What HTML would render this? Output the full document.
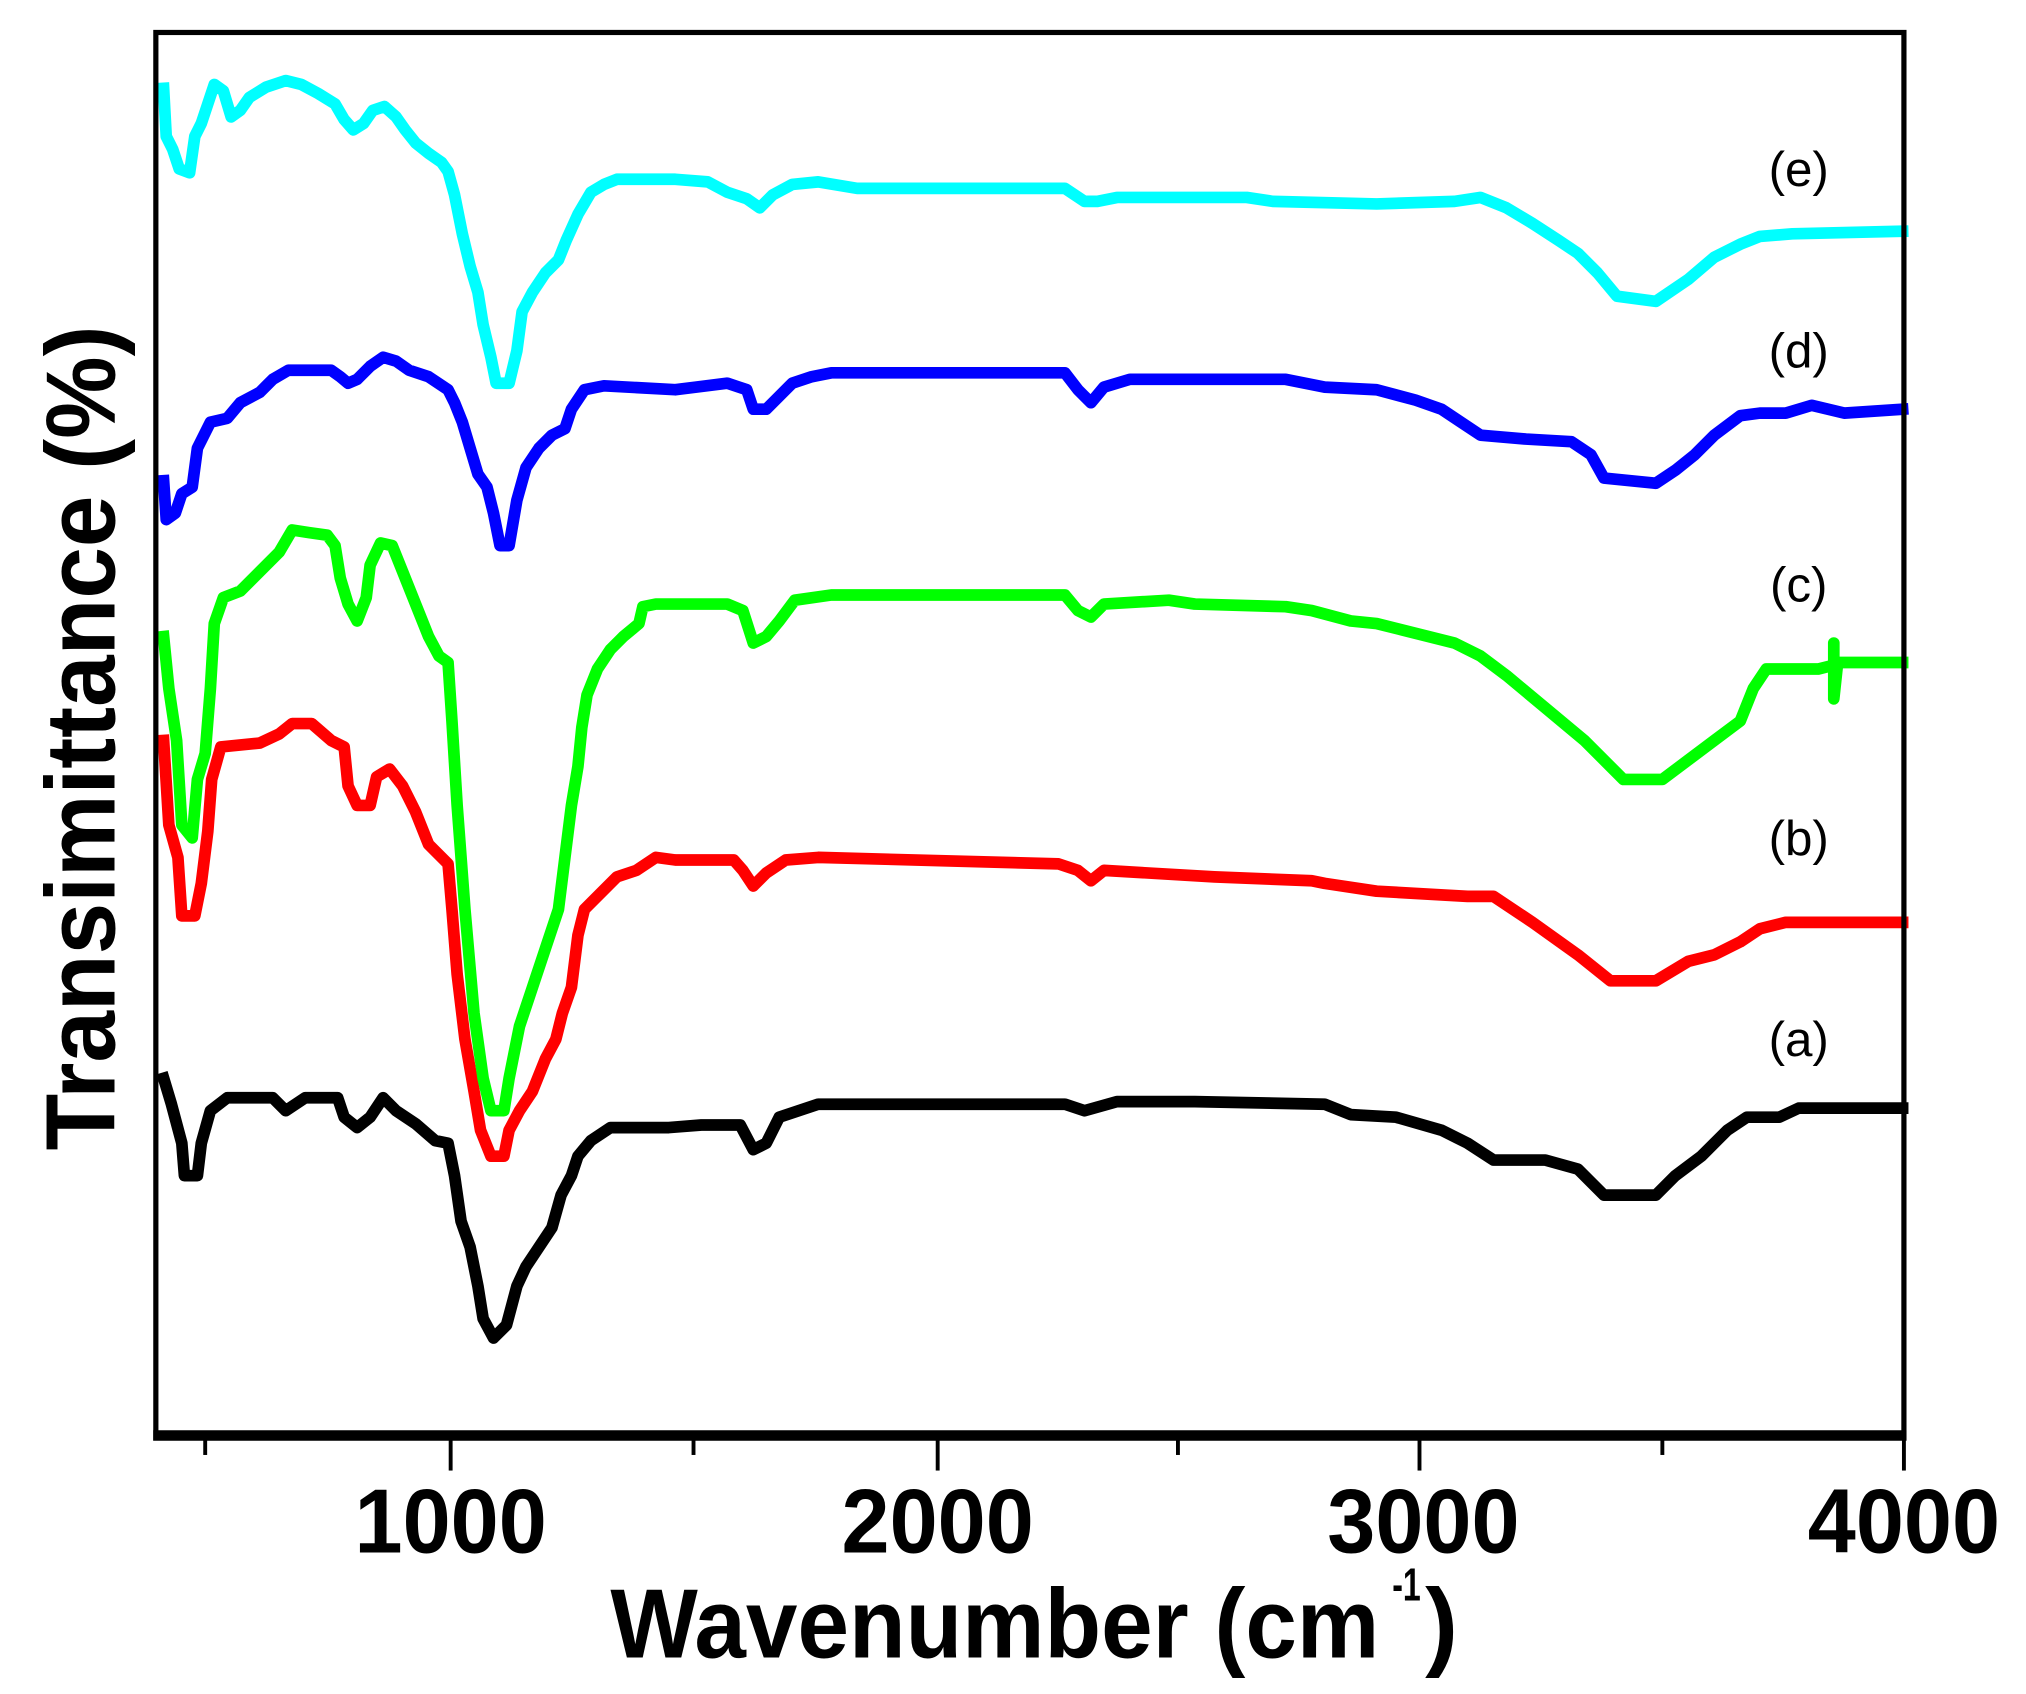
<!DOCTYPE html>
<html><head><meta charset="utf-8"><style>html,body{margin:0;padding:0;background:#fff}svg{display:block}</style></head>
<body>
<svg width="2026" height="1694" viewBox="0 0 1560 1304" preserveAspectRatio="none" xmlns="http://www.w3.org/2000/svg">
<rect width="1560" height="1304" fill="#fff"/>
<g fill="none" stroke-width="9" stroke-linejoin="round" stroke-linecap="square">
<polyline stroke="#000" points="126,830 132,850 140,880 142,905 152,905 155,880 162,855 175,845 210,845 220,855 235,845 260,845 265,860 275,868 285,860 295,845 305,855 320,865 335,878 345,880 350,905 355,940 362,960 368,990 372,1015 380,1030 390,1020 398,990 405,975 415,960 425,945 432,920 440,905 445,890 455,878 470,868 515,868 540,866 570,866 580,885 590,880 600,860 615,855 630,850 820,850 835,855 860,848 920,848 1020,850 1040,858 1075,860 1110,870 1130,880 1150,893 1190,893 1215,900 1235,920 1275,920 1290,905 1310,890 1330,870 1345,860 1370,860 1385,853 1465,853"/>
<polyline stroke="#ff0000" points="126,570 130,635 137,660 140,705 150,705 155,680 160,640 163,600 170,575 200,572 215,565 225,557 240,557 255,570 265,575 268,605 275,620 285,620 290,598 300,592 310,605 320,625 330,650 340,660 345,665 348,700 352,750 358,800 365,840 370,870 378,890 388,890 392,870 400,855 410,840 420,815 428,800 433,780 440,760 445,720 450,700 460,690 475,675 490,670 505,660 520,662 565,662 572,670 580,682 590,672 605,662 630,660 815,665 830,670 840,678 850,670 935,675 1010,678 1020,680 1060,686 1130,690 1150,690 1180,710 1215,735 1240,755 1275,755 1300,740 1320,735 1340,725 1355,715 1375,710 1465,710"/>
<polyline stroke="#00ff00" points="126,490 130,530 136,570 140,635 148,645 152,600 158,580 162,530 165,480 172,460 185,455 200,440 215,425 225,408 238,410 252,412 258,420 262,445 268,465 275,478 282,460 285,435 293,418 302,420 310,440 320,465 330,490 338,505 345,510 348,555 352,620 358,700 365,780 372,830 378,855 388,855 392,830 400,790 410,760 420,730 430,700 435,660 440,620 445,590 448,560 452,535 460,515 470,500 480,490 492,480 495,467 505,465 560,465 572,470 580,495 590,490 600,478 612,462 640,458 820,458 830,470 840,475 850,465 900,462 920,465 990,467 1010,470 1040,478 1060,480 1080,485 1120,495 1140,505 1160,520 1190,545 1220,570 1240,590 1250,600 1280,600 1300,585 1320,570 1340,555 1350,530 1360,515 1400,515 1412,512 1412,495 1412,538 1415,510 1465,510"/>
<polyline stroke="#0000ff" points="126,370 128,400 135,395 140,380 148,375 152,345 162,325 175,322 185,310 200,302 210,292 222,285 255,285 262,290 268,295 275,292 285,282 295,275 305,278 315,285 330,290 345,300 350,310 356,325 362,345 368,365 375,375 380,395 385,420 392,420 398,385 405,360 415,345 425,335 435,330 440,315 450,300 465,297 520,300 560,295 575,300 580,315 590,315 600,305 610,295 625,290 640,287 820,287 830,300 840,310 850,298 870,292 990,292 1020,298 1060,300 1090,308 1110,315 1125,325 1140,335 1175,338 1210,340 1225,350 1235,368 1275,372 1290,362 1305,350 1320,335 1340,320 1355,318 1375,318 1395,312 1420,318 1465,315"/>
<polyline stroke="#00ffff" points="126,68 128,105 133,115 138,130 146,133 150,105 155,95 160,80 165,65 172,70 178,90 185,85 192,75 205,67 220,62 232,65 245,72 258,80 265,92 272,100 280,95 287,85 296,82 305,90 312,100 320,110 330,118 340,125 345,132 350,150 356,180 362,205 368,225 372,250 378,275 382,295 392,295 398,270 402,240 410,225 420,210 430,200 436,185 445,165 455,148 465,142 475,138 520,138 545,140 560,148 575,153 585,160 595,150 610,142 630,140 660,145 820,145 835,155 845,155 860,152 960,152 980,155 1060,157 1120,155 1140,152 1160,160 1180,172 1200,185 1215,195 1230,210 1245,228 1275,232 1300,215 1320,198 1340,188 1355,182 1380,180 1465,178"/>
</g>
<g stroke="#000" fill="none">
<rect x="120" y="25" width="1346" height="1082" stroke-width="4"/>
<line x1="118" y1="1105" x2="1468" y2="1105" stroke-width="8"/>
<g stroke-width="3">
<line x1="347" y1="1105" x2="347" y2="1132"/><line x1="722" y1="1105" x2="722" y2="1132"/><line x1="1093" y1="1105" x2="1093" y2="1132"/><line x1="1466" y1="1105" x2="1466" y2="1132"/>
<line x1="158" y1="1105" x2="158" y2="1120"/><line x1="534" y1="1105" x2="534" y2="1120"/><line x1="907" y1="1105" x2="907" y2="1120"/><line x1="1280" y1="1105" x2="1280" y2="1120"/>
</g>
</g>
<g font-family="Liberation Sans, sans-serif" font-weight="bold" font-size="70" text-anchor="middle" fill="#000">
<text x="347" y="1195" textLength="148" lengthAdjust="spacingAndGlyphs">1000</text>
<text x="722" y="1195" textLength="148" lengthAdjust="spacingAndGlyphs">2000</text>
<text x="1096" y="1195" textLength="148" lengthAdjust="spacingAndGlyphs">3000</text>
<text x="1466" y="1195" textLength="148" lengthAdjust="spacingAndGlyphs">4000</text>
<text x="766" y="1276" font-size="76" textLength="592" lengthAdjust="spacingAndGlyphs">Wavenumber (cm</text>
<text x="1083" y="1232" font-size="36" textLength="22" lengthAdjust="spacingAndGlyphs">-1</text>
<text x="1110" y="1276" font-size="76">)</text>
<text transform="translate(88,568) rotate(-90)" font-size="76" textLength="635" lengthAdjust="spacingAndGlyphs">Transimittance (%)</text>
</g>
<g font-family="Liberation Sans, sans-serif" font-size="38" fill="#000" text-anchor="middle">
<text x="1385" y="143">(e)</text>
<text x="1385" y="283">(d)</text>
<text x="1385" y="463">(c)</text>
<text x="1385" y="658">(b)</text>
<text x="1385" y="813">(a)</text>
</g>
</svg>
</body></html>
